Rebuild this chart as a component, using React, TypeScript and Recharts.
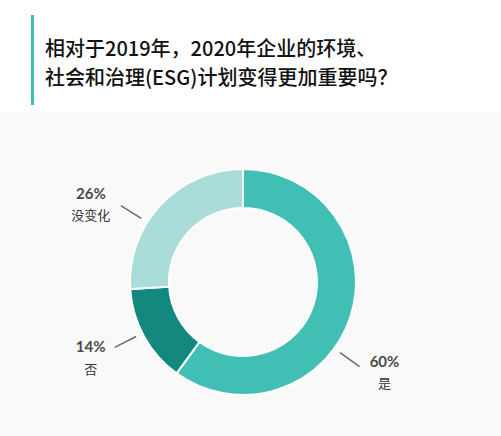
import React from "react";
import { PieChart, Pie, Cell } from "recharts";

// answers, clockwise from 12 o'clock
const answers = ["是", "否", "没变化"];
const shares = [60, 14, 26];
const colors = ["#42bfb4", "#12887e", "#aadcd9"];

// where each callout sits (angle clockwise from top, text offset from line end)
const calloutAngle = [126, 243, 302];
const calloutDx = [25, -24, -30];
const calloutDy = [-6, -1, -13];

const data = answers.map((name, i) => ({ name, value: shares[i] }));

const CJK = '"Noto Sans CJK SC", "Noto Sans", sans-serif';

function Callout(props: any) {
  const { cx, cy, outerRadius, index } = props;
  const a = (calloutAngle[index] * Math.PI) / 180;
  const sx = cx + Math.sin(a) * (outerRadius + 7);
  const sy = cy - Math.cos(a) * (outerRadius + 7);
  const ex = cx + Math.sin(a) * (outerRadius + 31);
  const ey = cy - Math.cos(a) * (outerRadius + 31);
  const tx = ex + calloutDx[index];
  const ty = ey + calloutDy[index];
  return (
    <g>
      <line x1={sx} y1={sy} x2={ex} y2={ey} stroke="#6b6b6b" strokeWidth={1.5} />
      <text
        x={tx}
        y={ty}
        textAnchor="middle"
        dominantBaseline="central"
        fill="#4a4a4a"
        fontFamily='Lato, "Open Sans", sans-serif'
        fontWeight={700}
        fontSize={15}
      >
        {shares[index]}%
      </text>
      <text
        x={tx}
        y={ty + 22}
        textAnchor="middle"
        dominantBaseline="central"
        fill="#333"
        fontFamily={CJK}
        fontSize={13}
      >
        {answers[index]}
      </text>
    </g>
  );
}

export default function App() {
  return (
    <div
      style={{
        position: "absolute",
        left: 0,
        top: 0,
        width: 501,
        height: 436,
        background: "#fff",
        overflow: "hidden",
      }}
    >
      <div
        style={{
          position: "absolute",
          left: 0,
          top: 112,
          width: 501,
          height: 324,
          background: "#f9f9f9",
        }}
      />
      <div
        style={{
          position: "absolute",
          left: 25,
          top: 424,
          width: 438,
          height: 1,
          background: "#ffffff",
        }}
      />
      <div
        style={{
          position: "absolute",
          left: 31,
          top: 15,
          width: 3,
          height: 90,
          background: "#42bfb4",
        }}
      />
      <div
        style={{
          position: "absolute",
          left: 45,
          top: 33,
          fontFamily: CJK,
          fontSize: 20,
          fontWeight: 500,
          lineHeight: "29px",
          color: "#111",
          whiteSpace: "nowrap",
        }}
      >
        相对于2019年，2020年企业的环境、
        <br />
        社会和治理(ESG)计划变得更加重要吗？
      </div>
      <div style={{ position: "absolute", left: 0, top: 0 }}>
        <PieChart
          width={501}
          height={436}
          margin={{ top: 0, right: 0, bottom: 0, left: 0 }}
        >
          <Pie
            data={data}
            dataKey="value"
            nameKey="name"
            cx={243}
            cy={282}
            innerRadius={74}
            outerRadius={113}
            startAngle={90}
            endAngle={-270}
            stroke="#ffffff"
            strokeWidth={2}
            label={Callout}
            labelLine={false}
            isAnimationActive={false}
          >
            {data.map((d, i) => (
              <Cell key={d.name} fill={colors[i]} />
            ))}
          </Pie>
        </PieChart>
      </div>
    </div>
  );
}
